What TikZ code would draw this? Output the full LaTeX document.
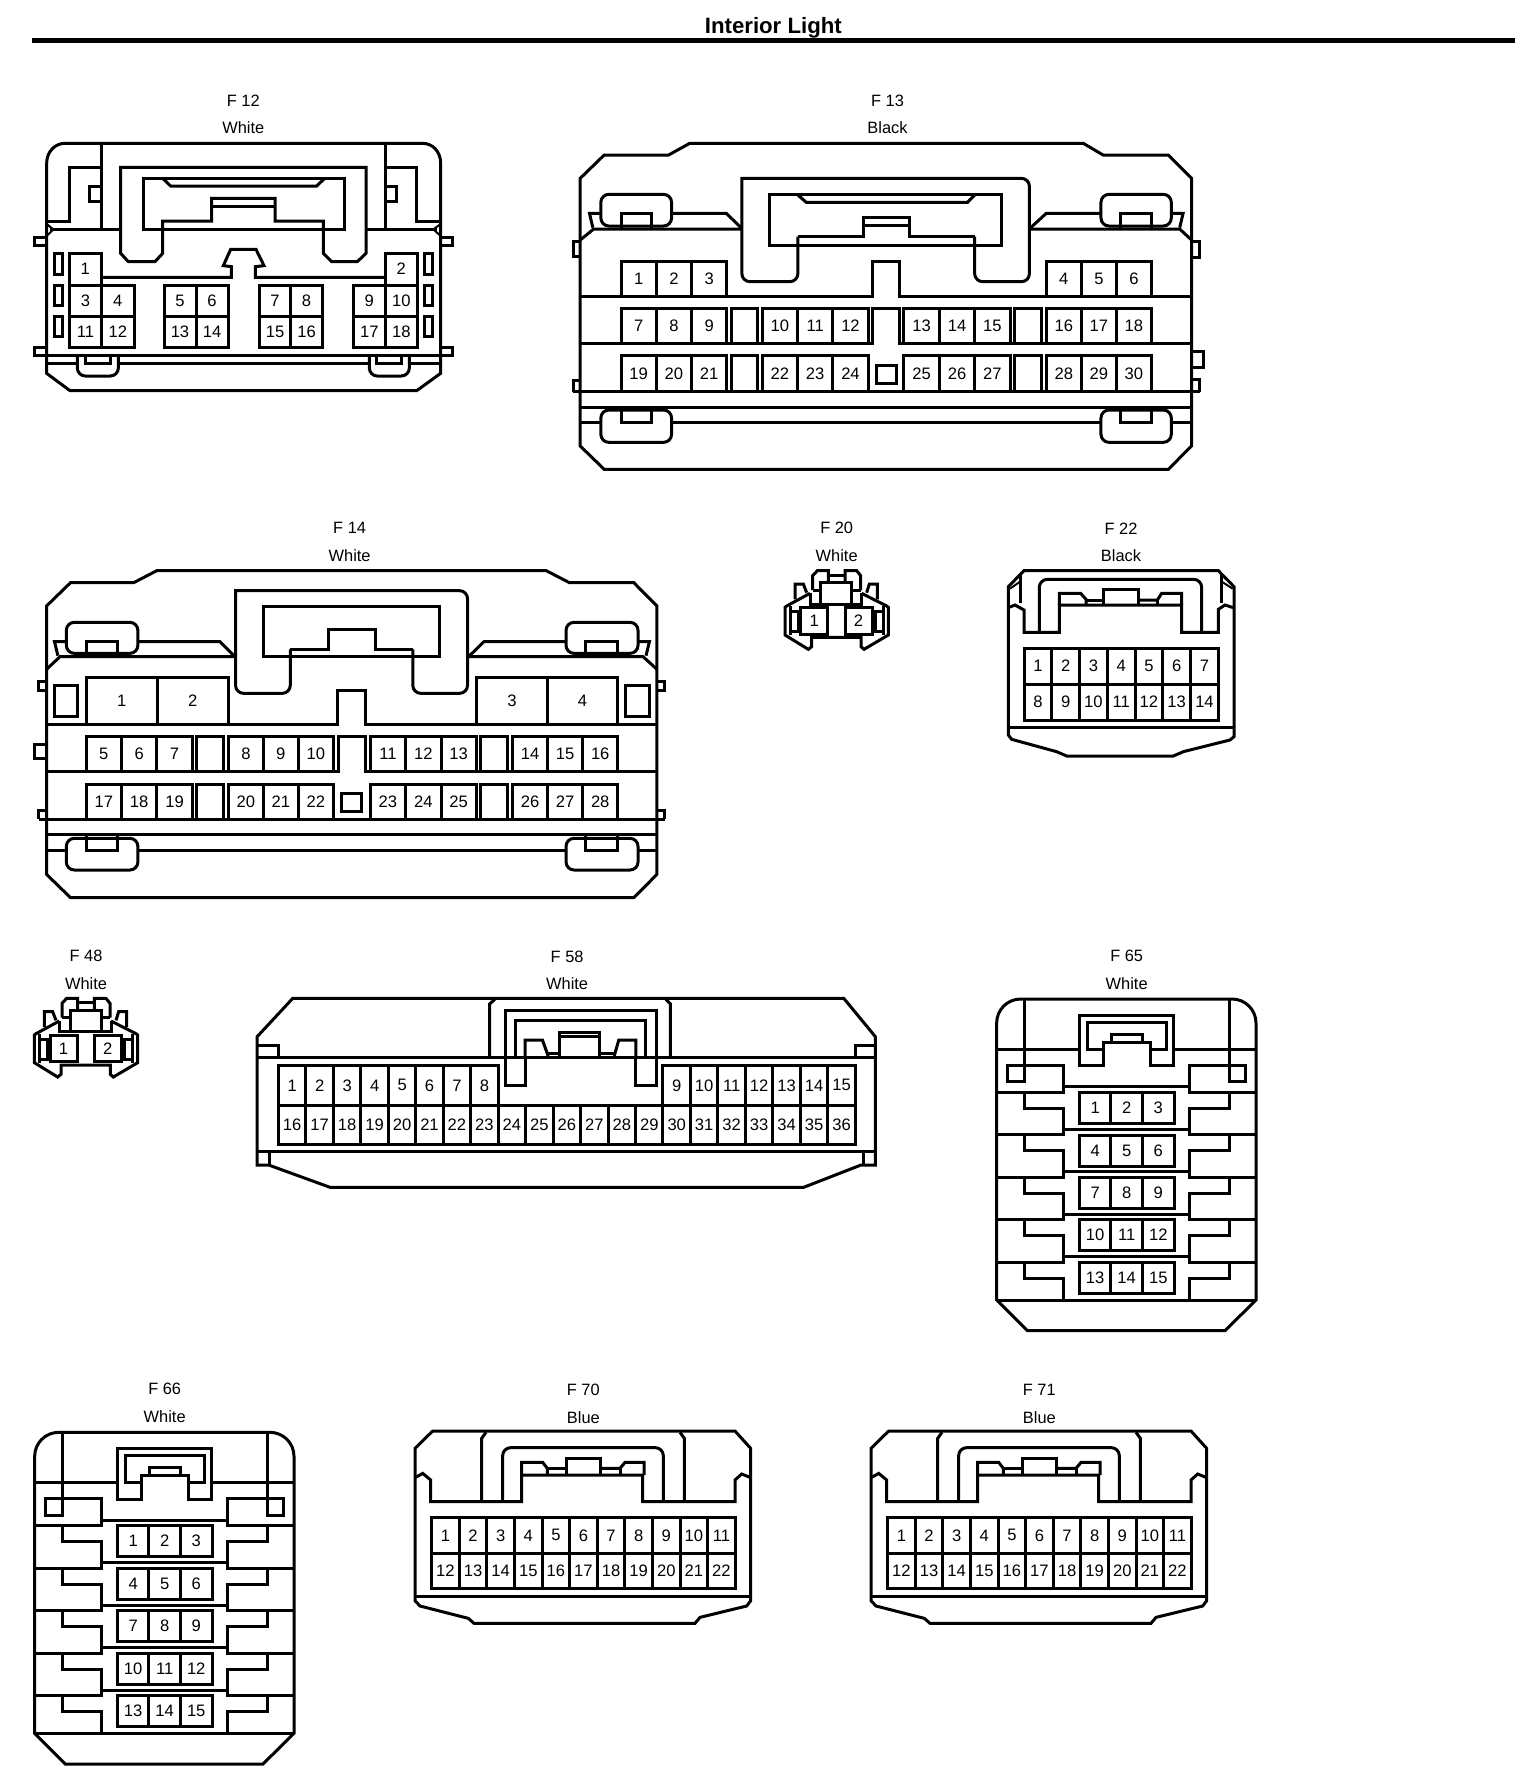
\documentclass[tikz,border=0pt]{standalone}
\usepackage{fontspec}
\setmainfont{Liberation Sans}

\def\un{0.16667pt}
\def\xf{1}

\tikzset{
  pin/.style={draw, inner sep=0pt, font=\fontsize{8.3}{10}\selectfont},
  tag/.style={inner sep=0pt, font=\fontsize{8.2}{10}\selectfont},
  heading/.style={inner sep=0pt, font=\fontsize{11.1}{12}\selectfont\bfseries},
}

% a row of touching cavities: id, left, top, cell width, cell height, numbers
\newcommand\pinrow[6]{%
  \foreach \n [count=\i from 0] in {#6}
    \node [pin, minimum width={#4*\xf*\un}, minimum height={#5*\un}]
      (#1p\n) at ({#2+#4*\i+#4/2},{#3+#5/2}) {\n};
}
% an empty cavity: name, left, top, right, bottom
\newcommand\blankcell[5]{%
  \node [pin, minimum width={(#4-#2)*\xf*\un}, minimum height={(#5-#3)*\un}]
    (#1) at ({(#2+#4)/2},{(#3+#5)/2}) {};
}
\newcommand\tagpair[5]{%
  \node [tag] (#1name) at (#2,#3) {#4};
  \node [tag] (#1color) at (#2,#3+82) {#5};
}

% small two way housing, F20 and F48
\newcommand\twinbody[1]{%
  \draw (158,240) -- (158,197) -- (172,182) -- (205,182) -- (205,218);
  \draw (255,218) -- (255,182) -- (290,182) -- (302,197) -- (302,240);
  \draw (205,195) -- (255,195);
  \draw (182,280) -- (182,218) -- (275,218) -- (275,280);
  \draw (158,240) -- (182,240);
  \draw (275,240) -- (302,240);
  \draw (150,250) -- (150,282) -- (305,282) -- (305,250);
  \draw (150,250) -- (80,288) -- (75,292) -- (75,375) -- (145,418) -- (155,410) -- (155,382)
     -- (303,382) -- (303,410) -- (312,418) -- (385,375) -- (385,292) -- (380,288) -- (305,250);
  \draw (105,268) -- (105,222) -- (130,222) -- (140,248);
  \draw (320,248) -- (328,222) -- (352,222) -- (352,268);
  \draw (90,288) -- (90,375);
  \draw (370,288) -- (370,375);
  \draw (90,305) -- (115,305) -- (115,365) -- (90,365);
  \draw (370,305) -- (345,305) -- (345,365) -- (370,365);
  \pinrow{#1a}{122}{292}{81}{80}{1}
  \pinrow{#1b}{255}{292}{81}{80}{2}
}

% housing with five bands of three, F65 and F66
\newcommand\bandbody[1]{%
  \draw [rounded corners=12pt] (80,1000) -- (80,177) -- (858,177) -- (858,1000) [sharp corners]
     -- (858,1080) -- (765,1172) -- (172,1172) -- (80,1080) -- cycle;
  \draw (80,1080) -- (858,1080);
  \draw (80,327) -- (328,327);
  \draw (610,327) -- (858,327);
  \draw (162,177) -- (162,425) -- (113,425) -- (113,376) -- (280,376) -- (280,440);
  \draw (778,177) -- (778,425) -- (825,425) -- (825,376) -- (658,376) -- (658,440);
  \draw (328,225) -- (610,225) -- (610,377) -- (542,377) -- (542,307) -- (400,307) -- (400,377) -- (328,377) -- cycle;
  \draw (400,327) -- (352,327) -- (352,247) -- (588,247) -- (588,327) -- (542,327);
  \draw (423,307) -- (423,283) -- (518,283) -- (518,307);
  \foreach \k [count=\b from 0] in {0,127.5,255,382,510}{
    \draw (80,457+\k) -- (280,457+\k) -- (280,440+\k) -- (658,440+\k) -- (658,457+\k) -- (858,457+\k);
    \draw (162,457+\k) -- (162,505+\k) -- (280,505+\k) -- (280,567.5+\k);
    \draw (778,457+\k) -- (778,505+\k) -- (658,505+\k) -- (658,567.5+\k);
  }
  \pinrow{#1}{328}{457}{94.7}{93}{1,2,3}
  \pinrow{#1}{328}{585}{94.7}{93}{4,5,6}
  \pinrow{#1}{328}{712}{94.7}{93}{7,8,9}
  \pinrow{#1}{328}{839}{94.7}{93}{10,11,12}
  \pinrow{#1}{328}{967}{94.7}{93}{13,14,15}
}

% twenty two way housing, F70 and F71
\newcommand\wideBody[1]{%
  \draw (45,235) -- (98,183) -- (1005,183) -- (1052,235) -- (1052,692) -- (1040,708) -- (900,742) -- (885,760)
     -- (222,760) -- (205,745) -- (60,708) -- (45,692) -- cycle;
  \draw (45,678) -- (1052,678);
  \draw (47,322) -- (68,310) -- (92,330) -- (92,395) -- (365,395) -- (365,315) -- (728,315) -- (728,395)
     -- (1005,395) -- (1005,330) -- (1025,312) -- (1050,322);
  \draw (245,395) -- (245,205) -- (258,187);
  \draw (853,395) -- (853,205) -- (840,187);
  \draw [rounded corners=4pt] (308,395) -- (308,233) -- (790,233) -- (790,395);
  \draw (365,315) -- (365,277) -- (428,277) -- (442,295) -- (442,315);
  \draw (442,295) -- (498,295);
  \draw (498,315) -- (498,265) -- (600,265) -- (600,315);
  \draw (600,295) -- (660,295) -- (675,277) -- (732,277) -- (732,315);
  \draw (660,295) -- (660,315);
  \pinrow{#1}{95}{443}{82.8}{106}{1,2,3,4,5,6,7,8,9,10,11}
  \pinrow{#1}{95}{549}{82.8}{106}{12,13,14,15,16,17,18,19,20,21,22}
}

\begin{document}
\begin{tikzpicture}[x=\un, y=-\un, line width=1.5pt]
\useasboundingbox (0,0) rectangle (4608,5364);

\node [heading] (title) at (2320,82) {Interior Light};
\coordinate (ruleL) at (96,122);
\coordinate (ruleR) at (4545,122);
\draw [line width=2.5pt] (ruleL) -- (ruleR);

% F12
\tagpair{f12}{730}{302}{F 12}{White}
\draw (140,490) .. controls (140,455) and (165,430) .. (195,430) -- (1268,430)
   .. controls (1298,430) and (1322,455) .. (1322,490) -- (1322,1120) -- (1250,1172) -- (210,1172) -- (140,1120) -- cycle;
\draw [line width=1.4pt] (304,430) -- (304,688);
\draw [line width=1.4pt] (1156,430) -- (1156,688);
\draw (150,688) -- (362,688);
\draw (1100,688) -- (1310,688);
\draw (362,502) -- (1098,502) -- (1098,760) -- (1072,785) -- (995,785) -- (970,760) -- (970,663) -- (825,663) -- (825,595)
   -- (635,595) -- (635,663) -- (488,663) -- (488,760) -- (465,785) -- (385,785) -- (362,760) -- cycle;
\draw (430,535) -- (1032,535) -- (1032,688) -- (430,688) -- cycle;
\draw (490,537) -- (512,558) -- (950,558) -- (972,537);
\draw (635,620) -- (825,620);
\draw (145,663) -- (208,663) -- (208,502) -- (304,502);
\draw (1318,663) -- (1250,663) -- (1250,502) -- (1156,502);
\draw (304,560) -- (268,560) -- (268,605) -- (304,605);
\draw (1156,560) -- (1190,560) -- (1190,605) -- (1156,605);
\draw [line width=1pt] (140,672) -- (160,688) -- (140,708);
\draw [line width=1pt] (1322,672) -- (1300,688) -- (1322,708);
\draw (140,712) -- (103,712) -- (103,737) -- (140,737);
\draw (1322,712) -- (1358,712) -- (1358,737) -- (1322,737);
\draw (140,1043) -- (103,1043) -- (103,1067) -- (1358,1067) -- (1358,1043) -- (1322,1043);
\draw [line width=1.3pt] (140,1090) -- (232,1090);
\draw [line width=1.3pt] (355,1090) -- (1108,1090);
\draw [line width=1.3pt] (1228,1090) -- (1322,1090);
\draw [rounded corners=4pt] (232,1067) -- (232,1128) -- (355,1128) -- (355,1067);
\draw [rounded corners=4pt] (1108,1067) -- (1108,1128) -- (1228,1128) -- (1228,1067);
\draw (255,1067) -- (255,1090) -- (330,1090) -- (330,1067);
\draw (1130,1067) -- (1130,1090) -- (1205,1090) -- (1205,1067);
\foreach \y/\z in {760/822,855/915,948/1008}{
  \draw (162,\y) rectangle (188,\z);
  \draw (1272,\y) rectangle (1298,\z);
}
\draw (304,832) -- (694,832) -- (694,800) -- (670,797) -- (692,748) -- (768,748) -- (792,797) -- (766,800) -- (766,832) -- (1156,832);
\pinrow{f12}{208}{760}{96}{95}{1}
\pinrow{f12}{1156}{760}{96}{95}{2}
\pinrow{f12}{208}{855}{97}{95}{3,4}
\pinrow{f12}{492}{855}{96}{95}{5,6}
\pinrow{f12}{778}{855}{94.5}{95}{7,8}
\pinrow{f12}{1060}{855}{96}{95}{9,10}
\pinrow{f12}{208}{950}{97}{93}{11,12}
\pinrow{f12}{492}{950}{96}{93}{13,14}
\pinrow{f12}{778}{950}{94.5}{93}{15,16}
\pinrow{f12}{1060}{950}{96}{93}{17,18}

% F13
\begin{scope}[shift={(1680,240)}, xscale=1.263]
\def\xf{1.263}
\tagpair{f13}{778}{62}{F 13}{Black}
\draw (48,295) -- (105,225) -- (258,225) -- (308,190) -- (1243,190) -- (1290,225) -- (1445,225) -- (1500,295)
   -- (1500,1098) -- (1445,1168) -- (105,1168) -- (48,1098) -- cycle;
\draw [rounded corners=4pt] (985,470) -- (985,605) -- (1115,605) -- (1115,295) [sharp corners] -- (432,295) [rounded corners=4pt]
   -- (432,605) -- (565,605) -- (565,470);
\draw (565,470) -- (720,470) -- (720,412) -- (830,412) -- (830,470) -- (985,470);
\draw (498,343) rectangle (1048,497);
\draw (565,345) -- (585,367) -- (968,367) -- (985,345);
\draw (720,435) -- (830,435);
\draw (48,480) -- (80,447) -- (432,447);
\draw (1500,480) -- (1472,447) -- (1115,447);
\draw (78,443) -- (70,400) -- (97,400);
\draw (265,400) -- (395,400) -- (430,443);
\draw (1118,443) -- (1155,400) -- (1285,400);
\draw (1452,400) -- (1480,400) -- (1472,443);
\draw [rounded corners=4pt] (97,343) rectangle (265,438);
\draw [rounded corners=4pt] (1285,343) rectangle (1452,438);
\draw (145,447) -- (145,400) -- (217,400) -- (217,447);
\draw (1332,447) -- (1332,400) -- (1405,400) -- (1405,447);
\draw (32,935) -- (1520,935);
\draw (48,983) -- (1500,983);
\draw (48,1027) -- (97,1027);
\draw (265,1027) -- (1285,1027);
\draw (1452,1027) -- (1500,1027);
\draw [rounded corners=4pt] (97,990) rectangle (265,1087);
\draw [rounded corners=4pt] (1285,990) rectangle (1452,1087);
\draw (145,985) -- (145,1027) -- (217,1027) -- (217,985);
\draw (1332,985) -- (1332,1027) -- (1405,1027) -- (1405,985);
\draw (48,650) -- (742,650) -- (742,545) -- (806,545) -- (806,650) -- (1500,650);
\draw (48,790) -- (742,790) -- (742,685) -- (806,685) -- (806,790) -- (1500,790);
\draw (48,483) -- (32,483) -- (32,530) -- (48,530);
\draw (48,900) -- (32,900) -- (32,935);
\draw (1500,483) -- (1520,483) -- (1520,533) -- (1500,533);
\draw (1500,815) -- (1528,815) -- (1528,862) -- (1500,862);
\draw (1500,898) -- (1520,898) -- (1520,935);
\pinrow{f13}{145}{545}{83.7}{105}{1,2,3}
\pinrow{f13}{1155}{545}{83.3}{105}{4,5,6}
\pinrow{f13}{145}{685}{83.7}{105}{7,8,9}
\blankcell{f13x1}{407}{685}{468}{790}
\pinrow{f13}{480}{685}{84}{105}{10,11,12}
\pinrow{f13}{817}{685}{84}{105}{13,14,15}
\blankcell{f13x2}{1080}{685}{1143}{790}
\pinrow{f13}{1155}{685}{83.3}{105}{16,17,18}
\pinrow{f13}{145}{827}{83.7}{108}{19,20,21}
\blankcell{f13x3}{407}{827}{468}{935}
\pinrow{f13}{480}{827}{84}{108}{22,23,24}
\blankcell{f13key}{752}{855}{800}{910}
\pinrow{f13}{817}{827}{84}{108}{25,26,27}
\blankcell{f13x4}{1080}{827}{1143}{935}
\pinrow{f13}{1155}{827}{83.3}{108}{28,29,30}
\end{scope}

% F14
\begin{scope}[shift={(60,1530)}, xscale=1.263]
\def\xf{1.263}
\tagpair{f14}{783}{55}{F 14}{White}
\draw (63,288) -- (120,218) -- (270,218) -- (325,182) -- (1250,182) -- (1305,218) -- (1458,218) -- (1513,288)
   -- (1513,1093) -- (1458,1163) -- (120,1163) -- (63,1093) -- cycle;
\draw [rounded corners=4pt] (933,418) -- (933,550) -- (1063,550) -- (1063,242) [sharp corners] -- (512,242) [rounded corners=4pt]
   -- (512,550) -- (642,550) -- (642,418);
\draw (642,418) -- (732,418) -- (732,358) -- (845,358) -- (845,418) -- (933,418);
\draw (578,290) rectangle (997,440);
\draw (63,478) -- (95,440) -- (512,440);
\draw (1513,478) -- (1480,440) -- (1063,440);
\draw (90,437) -- (82,395) -- (110,395);
\draw (280,395) -- (475,395) -- (508,437);
\draw (1068,437) -- (1102,395) -- (1297,395);
\draw (1468,395) -- (1495,395) -- (1487,437);
\draw [rounded corners=4pt] (110,337) rectangle (280,430);
\draw [rounded corners=4pt] (1297,337) rectangle (1468,430);
\draw (157,440) -- (157,395) -- (232,395) -- (232,440);
\draw (1343,440) -- (1343,395) -- (1420,395) -- (1420,440);
\draw (45,928) -- (1532,928);
\draw (63,973) -- (1513,973);
\draw (63,1022) -- (110,1022);
\draw (280,1022) -- (1297,1022);
\draw (1468,1022) -- (1513,1022);
\draw [rounded corners=4pt] (110,985) rectangle (280,1080);
\draw [rounded corners=4pt] (1297,985) rectangle (1468,1080);
\draw (157,975) -- (157,1022) -- (232,1022) -- (232,975);
\draw (1343,975) -- (1343,1022) -- (1420,1022) -- (1420,975);
\draw (63,643) -- (755,643) -- (755,540) -- (820,540) -- (820,643) -- (1513,643);
\draw (63,783) -- (757,783) -- (757,680) -- (820,680) -- (820,783) -- (1513,783);
\draw (63,513) -- (45,513) -- (45,540) -- (63,540);
\draw (63,702) -- (35,702) -- (35,745) -- (63,745);
\draw (63,902) -- (45,902) -- (45,928);
\draw (1513,513) -- (1532,513) -- (1532,540) -- (1513,540);
\draw (1513,902) -- (1532,902) -- (1532,928);
\blankcell{f14side1}{82}{527}{137}{620}
\blankcell{f14side2}{1438}{527}{1495}{620}
\pinrow{f14}{157}{502}{169}{141}{1,2}
\pinrow{f14}{1085}{502}{167.5}{141}{3,4}
\pinrow{f14}{157}{680}{84}{103}{5,6,7}
\blankcell{f14x1}{420}{680}{483}{783}
\pinrow{f14}{495}{680}{83}{103}{8,9,10}
\pinrow{f14}{832}{680}{84}{103}{11,12,13}
\blankcell{f14x2}{1095}{680}{1158}{783}
\pinrow{f14}{1170}{680}{83.3}{103}{14,15,16}
\pinrow{f14}{157}{822}{84}{106}{17,18,19}
\blankcell{f14x3}{420}{822}{483}{928}
\pinrow{f14}{495}{822}{83}{106}{20,21,22}
\blankcell{f14key}{763}{850}{812}{905}
\pinrow{f14}{832}{822}{84}{106}{23,24,25}
\blankcell{f14x4}{1095}{822}{1158}{928}
\pinrow{f14}{1170}{822}{83.3}{106}{26,27,28}
\end{scope}

% F20
\begin{scope}[shift={(2280,1530)}]
\tagpair{f20}{230}{55}{F 20}{White}
\twinbody{f20}
\end{scope}

% F22
\begin{scope}[shift={(2280,1530)}]
\tagpair{f22}{1083}{55}{F 22}{Black}
\draw (745,230) -- (792,182) -- (1375,182) -- (1422,230) -- (1422,680) -- (1410,690) -- (1270,725) -- (1240,738)
   -- (920,738) -- (890,725) -- (755,688) -- (745,675) -- cycle;
\draw (780,192) -- (780,280);
\draw (1385,192) -- (1385,280);
\draw [line width=1pt] (780,215) -- (750,236);
\draw [line width=1pt] (1385,215) -- (1418,236);
\draw (747,292) -- (765,285) -- (792,300) -- (792,367) -- (898,367) -- (898,285) -- (1265,285) -- (1265,367) -- (1375,367)
   -- (1375,298) -- (1395,285) -- (1420,293);
\draw [rounded corners=4pt] (838,367) -- (838,208) -- (1325,208) -- (1325,367);
\draw (898,285) -- (898,250) -- (962,250) -- (978,268) -- (978,285);
\draw (978,270) -- (1030,270);
\draw (1030,285) -- (1030,238) -- (1135,238) -- (1135,285);
\draw (1135,270) -- (1192,270) -- (1205,250) -- (1265,250) -- (1265,285);
\draw (1192,270) -- (1192,285);
\draw (745,652) -- (1422,652);
\pinrow{f22}{792}{415}{83.3}{107}{1,2,3,4,5,6,7}
\pinrow{f22}{792}{522}{83.3}{108}{8,9,10,11,12,13,14}
\end{scope}

% F48
\begin{scope}[shift={(28,2813)}]
\tagpair{f48}{230}{55}{F 48}{White}
\twinbody{f48}
\end{scope}

% F58
\begin{scope}[shift={(0,2790)}, xscale=1.722]
\def\xf{1.722}
\tagpair{f58}{988}{80}{F 58}{White}
\draw (448,320) -- (510,205) -- (1470,205) -- (1525,320) -- (1525,705) -- (1500,705) -- (1400,772) -- (575,772) -- (468,705) -- (448,705) -- cycle;
\draw (448,665) -- (1525,665);
\draw (470,665) -- (470,705);
\draw (1505,665) -- (1505,705);
\draw (448,345) -- (485,345) -- (485,382);
\draw (1525,345) -- (1490,345) -- (1490,382);
\draw (448,382) -- (1525,382);
\draw (853,382) -- (853,222) -- (862,208);
\draw (1168,382) -- (1168,222) -- (1160,208);
\draw (1108,382) -- (1108,465) -- (1143,465) -- (1143,240) -- (880,240) -- (880,465) -- (915,465) -- (915,382);
\draw (898,382) -- (898,270) -- (1125,270) -- (1125,382);
\draw (915,382) -- (915,330) -- (945,330) -- (955,378);
\draw (1108,382) -- (1108,330) -- (1078,330) -- (1070,378);
\draw (975,382) -- (975,306) -- (1045,306) -- (1045,382);
\draw (975,318) -- (1045,318);
\draw (955,370) -- (975,370);
\draw (1045,370) -- (1070,370);
\pinrow{f58}{485}{407}{47.9}{118}{1,2,3,4,5,6,7,8}
\pinrow{f58}{1155}{407}{47.9}{118}{9,10,11,12,13,14,15}
\pinrow{f58}{485}{525}{47.86}{118}{16,17,18,19,20,21,22,23,24,25,26,27,28,29,30,31,32,33,34,35,36}
\end{scope}

% F65
\begin{scope}[shift={(2910,2820)}]
\tagpair{f65}{470}{48}{F 65}{White}
\bandbody{f65}
\end{scope}

% F66
\begin{scope}[shift={(24,4120)}]
\tagpair{f66}{470}{48}{F 66}{White}
\bandbody{f66}
\end{scope}

% F70
\begin{scope}[shift={(1200,4110)}]
\tagpair{f70}{550}{60}{F 70}{Blue}
\wideBody{f70}
\end{scope}

% F71
\begin{scope}[shift={(2568,4110)}]
\tagpair{f71}{550}{60}{F 71}{Blue}
\wideBody{f71}
\end{scope}

\end{tikzpicture}
\end{document}
